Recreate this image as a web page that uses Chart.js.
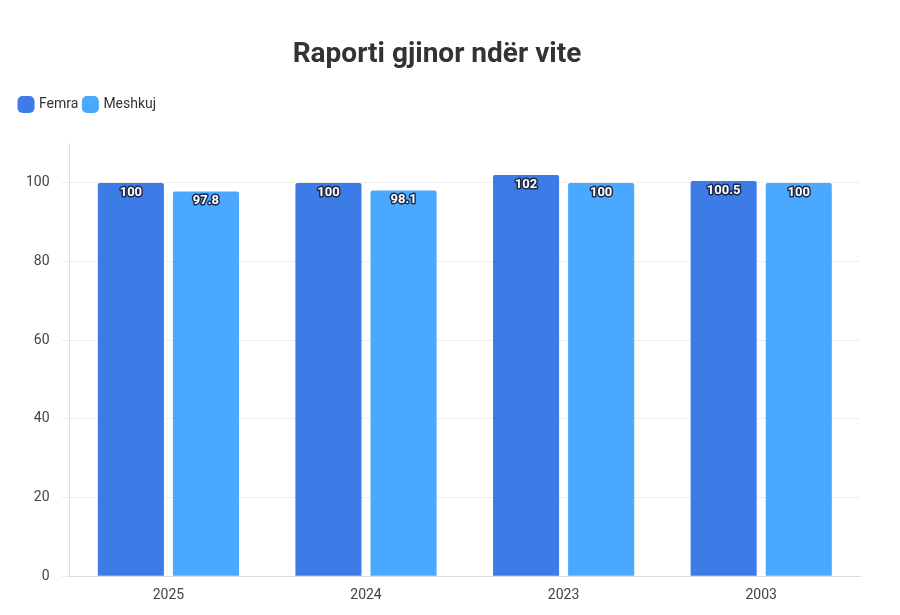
<!DOCTYPE html>
<html>
<head>
<meta charset="utf-8">
<script src="https://cdn.jsdelivr.net/npm/chart.js@4"></script>
<style>
  body { margin: 0; background: #fff; }
  #wrap { width: 900px; height: 615px; }
</style>
</head>
<body>
<div id="wrap"><canvas id="graph"></canvas></div>
<script>
// données
var years = ['2025', '2024', '2023', '2003'];
var femra = [100, 100, 102, 100.5];
var meshkuj = [97.8, 98.1, 100, 100];
var tickValues = [0, 20, 40, 60, 80, 100];

// étiquettes blanches en haut des barres
var labelPlugin = {
    id: 'barLabels',
    afterDatasetsDraw(chart) {
        var ctx = chart.ctx;
        ctx.save();
        ctx.font = 'bold 13px Roboto';
        ctx.textAlign = 'center';
        ctx.textBaseline = 'top';
        ctx.lineJoin = 'round';
        chart.data.datasets.forEach(function (ds, i) {
            chart.getDatasetMeta(i).data.forEach(function (bar, j) {
                var txt = String(ds.data[j]);
                ctx.lineWidth = 3;
                ctx.strokeStyle = '#1b2a4a';
                ctx.strokeText(txt, bar.x, bar.y + 3);
                ctx.fillStyle = '#fff';
                ctx.fillText(txt, bar.x, bar.y + 3);
            });
        });
        ctx.restore();
    }
};

// espace sous la légende
var legendSpace = {
    id: 'legendSpace',
    beforeInit(chart) {
        var fit = chart.legend.fit;
        chart.legend.fit = function () {
            fit.bind(chart.legend)();
            this.height += 22;
        };
    }
};

var graph = new Chart(document.getElementById('graph'), {
    type: 'bar',
    data: {
        labels: years,
        datasets: [
            { label: 'Femra', data: femra, backgroundColor: '#3d7be6', borderRadius: 2 },
            { label: 'Meshkuj', data: meshkuj, backgroundColor: '#4aa8ff', borderRadius: 2 }
        ]
    },
    options: {
        responsive: true,
        maintainAspectRatio: false,
        animation: false,
        layout: { padding: { left: 14, right: 40, top: 28, bottom: 8 } },
        datasets: { bar: { categoryPercentage: 0.76, barPercentage: 0.88 } },
        plugins: {
            title: {
                display: true,
                text: 'Raporti gjinor ndër vite',
                color: '#333',
                font: { family: 'Roboto', size: 28, weight: 'bold' },
                padding: { top: 10, bottom: 20 }
            },
            legend: {
                position: 'top',
                align: 'start',
                labels: {
                    usePointStyle: true,
                    pointStyle: 'rectRounded',
                    boxWidth: 12, boxHeight: 14,
                    color: '#333',
                    font: { family: 'Roboto', size: 14 },
                    padding: 6
                }
            },
            tooltip: { enabled: false }
        },
        scales: {
            x: {
                grid: { display: false },
                border: { color: '#ddd' },
                ticks: { color: '#444', font: { family: 'Roboto', size: 14 } }
            },
            y: {
                min: 0, max: 110,
                afterBuildTicks: function (axis) {
                    axis.ticks = tickValues.map(function (v) { return { value: v }; });
                },
                grid: { color: '#eee' },
                border: { color: '#ddd' },
                ticks: { color: '#444', padding: 12, font: { family: 'Roboto', size: 14 } }
            }
        }
    },
    plugins: [labelPlugin, legendSpace]
});
</script>
</body>
</html>
